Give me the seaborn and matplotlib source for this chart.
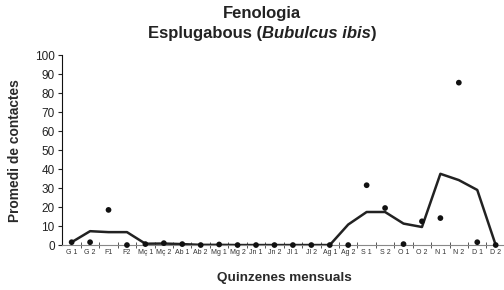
import numpy as np
import pandas as pd
import seaborn as sns
import matplotlib.pyplot as plt
from matplotlib.ticker import FixedLocator
from matplotlib.offsetbox import TextArea, HPacker, AnnotationBbox

# Quinzenes (two halves of each month)
quinzenes = ['G 1', 'G 2', 'F1', 'F2', 'Mç 1', 'Mç 2', 'Ab 1', 'Ab 2', 'Mg 1', 'Mg 2',
             'Jn 1', 'Jn 2', 'Jl 1', 'Jl 2', 'Ag 1', 'Ag 2', 'S 1', 'S 2', 'O 1', 'O 2',
             'N 1', 'N 2', 'D 1', 'D 2']
# observed mean contacts (dots)
contactes = [1.5, 1.5, 18.5, 0, 0.5, 1, 0.5, 0, 0.3, 0,
             0, 0, 0, 0, 0, 0, 31.5, 19.5, 0.5, 12.5,
             14.2, 85.5, 1.5, 0]
# smoothed trend (line)
tendencia = [1.5, 7.3, 6.8, 6.8, 0.7, 0.8, 0.5, 0.1, 0.1, 0,
             0, 0, 0, 0, 0, 10.8, 17.4, 17.4, 11.3, 9.5,
             37.5, 34.2, 29, 0]

df = pd.DataFrame({'pos': np.arange(len(quinzenes)), 'quinzena': quinzenes,
                   'contactes': contactes, 'tendencia': tendencia})

sns.set_style('white')
plt.rcParams['font.family'] = ['Liberation Sans', 'DejaVu Sans']

fig = plt.figure(figsize=(5.04, 2.90), dpi=100)
ax = fig.add_axes([0.1224, 0.155, 0.8776, 0.655])

sns.lineplot(data=df, x='pos', y='tendencia', color='#222222', linewidth=1.8, ax=ax)
sns.scatterplot(data=df, x='pos', y='contactes', color='#111111', s=17,
                edgecolor='none', zorder=3, ax=ax, clip_on=False)

ax.set_xlim(-0.54, 23.45)
ax.set_ylim(0, 100)
ax.set_yticks(range(0, 101, 10))
ax.tick_params(axis='y', labelsize=8.5, colors='#222222', direction='out',
               length=3, width=0.8, left=True, pad=2)
ax.set_xticks(df['pos'])
ax.set_xticklabels(quinzenes, fontsize=5, color='#333333')
ax.tick_params(axis='x', which='major', length=0, pad=3)
ax.xaxis.set_minor_locator(FixedLocator(np.arange(0.5, 23.5, 1)))
ax.tick_params(axis='x', which='minor', direction='inout', length=4,
               width=0.7, color='#555555', bottom=True)

for s in ['top', 'right']:
    ax.spines[s].set_visible(False)
ax.spines['left'].set_color('#111111')
ax.spines['left'].set_linewidth(0.8)
ax.spines['bottom'].set_color('#888888')
ax.spines['bottom'].set_linewidth(0.8)

ax.set_xlabel('')
ax.set_ylabel('')
fig.text(0.030, 0.48, 'Promedi de contactes', rotation=90, ha='center', va='center',
         fontsize=9.9, fontweight='bold', color='#2a2a2a')
fig.text(0.565, 0.043, 'Quinzenes mensuals', ha='center', va='center',
         fontsize=9.7, fontweight='bold', color='#2a2a2a')

fig.text(0.52, 0.952, 'Fenologia', ha='center', va='center',
         fontsize=12, fontweight='bold', color='#222222')
parts = [TextArea('Esplugabous (', textprops=dict(fontsize=12, fontweight='bold', color='#222222')),
         TextArea('Bubulcus ibis', textprops=dict(fontsize=12, fontweight='bold', style='italic', color='#222222')),
         TextArea(')', textprops=dict(fontsize=12, fontweight='bold', color='#222222'))]
box = HPacker(children=parts, align='baseline', pad=0, sep=0)
ab = AnnotationBbox(box, (0.52, 0.886), xycoords='figure fraction', frameon=False,
                    box_alignment=(0.5, 0.5))
fig.add_artist(ab)

fig.savefig('out.png', dpi=100)
